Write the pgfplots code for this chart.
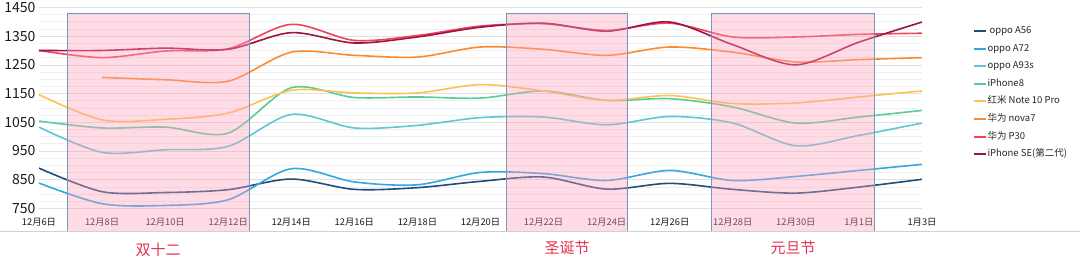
\documentclass[border=0pt]{standalone}
\usepackage{fontspec}
\setmainfont{Noto Sans CJK SC}
\usepackage{pgfplots}
\pgfplotsset{compat=1.18}
\definecolor{cA56}{RGB}{31,78,121}
\definecolor{cA72}{RGB}{51,168,224}
\definecolor{cA93}{RGB}{92,200,212}
\definecolor{cIP8}{RGB}{86,207,149}
\definecolor{cRM}{RGB}{255,193,79}
\definecolor{cNova}{RGB}{254,138,44}
\definecolor{cP30}{RGB}{238,67,88}
\definecolor{cSE}{RGB}{160,18,70}
\definecolor{boxfill}{RGB}{255,160,190}
\definecolor{boxedge}{RGB}{120,150,190}
\definecolor{festred}{RGB}{232,48,80}
\begin{document}
\begin{tikzpicture}[x=1pt,y=1pt]
\path[use as bounding box] (0,0) rectangle (1080,270);
\draw[black!18, line width=0.8pt] (0,39) -- (1080,39);
\begin{axis}[
  at={(39pt,39pt)}, anchor=south west,
  width=883pt, height=223.6pt, scale only axis,
  xmin=0, xmax=28, ymin=671, ymax=1450,
  axis line style={draw=none},
  major tick length=0pt, minor tick length=0pt,
  ytick={750,850,...,1450},
  minor y tick num=3,
  ymajorgrids, yminorgrids,
  major grid style={black!12, line width=0.6pt},
  minor grid style={black!6, line width=0.5pt},
  xtick={0,2,...,28},
  xticklabels={12月6日,12月8日,12月10日,12月12日,12月14日,12月16日,12月18日,12月20日,12月22日,12月24日,12月26日,12月28日,12月30日,1月1日,1月3日},
  xticklabel style={anchor=center, yshift=9pt, font=\fontsize{9.3}{10}\selectfont, text=black!90},
  yticklabel style={font=\fontsize{14}{16}\selectfont, text=black!90},
  /pgf/number format/assume math mode=true,
  /pgf/number format/1000 sep={},
  legend cell align=left,
  legend image code/.code={\draw[#1, line width=2pt] (0pt,0pt) -- (12pt,0pt);},
  legend style={at={(1.0578,0.917)}, anchor=north west, draw=none, fill=none,
    inner sep=0pt, outer sep=0pt, row sep=7.6pt,
    font=\fontsize{9.5}{10}\selectfont, text=black!85,
    nodes={inner sep=0.5pt, text height=7pt, text depth=2pt}},
  every axis plot/.append style={smooth, line width=1.6pt, no marks},
]
\addplot[cA56] coordinates {(0,890)(2,808)(4,805)(6,815)(8,852)(10,816)(12,822)(14,844)(16,859)(18,817)(20,837)(22,816)(24,803)(26,824)(28,851)};
\addlegendentry{\ oppo A56}
\addplot[cA72] coordinates {(0,838)(2,766)(4,760)(6,780)(8,888)(10,842)(12,832)(14,875)(16,871)(18,847)(20,882)(22,847)(24,861)(26,882)(28,903)};
\addlegendentry{oppo A72}
\addplot[cA93] coordinates {(0,1033)(2,945)(4,954)(6,966)(8,1077)(10,1030)(12,1039)(14,1066)(16,1068)(18,1041)(20,1070)(22,1047)(24,968)(26,1004)(28,1047)};
\addlegendentry{oppo A93s}
\addplot[cIP8] coordinates {(0,1054)(2,1030)(4,1033)(6,1012)(8,1170)(10,1136)(12,1138)(14,1134)(16,1159)(18,1126)(20,1132)(22,1103)(24,1047)(26,1068)(28,1091)};
\addlegendentry{iPhone8}
\addplot[cRM] coordinates {(0,1146)(2,1058)(4,1060)(6,1082)(8,1161)(10,1152)(12,1152)(14,1181)(16,1159)(18,1126)(20,1143)(22,1115)(24,1117)(26,1138)(28,1159)};
\addlegendentry{红米 Note 10 Pro}
\addplot[cNova] coordinates {(2,1206)(4,1198)(6,1193)(8,1294)(10,1283)(12,1277)(14,1312)(16,1304)(18,1283)(20,1312)(22,1294)(24,1260)(26,1268)(28,1275)};
\addlegendentry{华为 nova7}
\addplot[cP30] coordinates {(0,1300)(2,1275)(4,1298)(6,1306)(8,1391)(10,1335)(12,1352)(14,1385)(16,1393)(18,1370)(20,1395)(22,1347)(24,1347)(26,1356)(28,1360)};
\addlegendentry{华为 P30}
\addplot[cSE] coordinates {(0,1300)(2,1300)(4,1308)(6,1304)(8,1362)(10,1326)(12,1347)(14,1381)(16,1395)(18,1367)(20,1399)(22,1320)(24,1250)(26,1329)(28,1399)};
\addlegendentry{iPhone SE(第二代)}
\fill[boxfill, fill opacity=0.38] (axis cs:0.91,671) rectangle (axis cs:6.67,1429);
\fill[boxfill, fill opacity=0.38] (axis cs:14.81,671) rectangle (axis cs:18.65,1429);
\fill[boxfill, fill opacity=0.38] (axis cs:21.33,671) rectangle (axis cs:26.49,1429);
\draw[boxedge, line width=0.8pt] (axis cs:0.91,671) rectangle (axis cs:6.67,1429);
\draw[boxedge, line width=0.8pt] (axis cs:14.81,671) rectangle (axis cs:18.65,1429);
\draw[boxedge, line width=0.8pt] (axis cs:21.33,671) rectangle (axis cs:26.49,1429);
\end{axis}
\node[text=festred, font=\fontsize{15}{16}\selectfont] at (158,20) {双十二};
\node[text=festred, font=\fontsize{15}{16}\selectfont] at (567,22) {圣诞节};
\node[text=festred, font=\fontsize{15}{16}\selectfont] at (793,22) {元旦节};
\end{tikzpicture}
\end{document}
